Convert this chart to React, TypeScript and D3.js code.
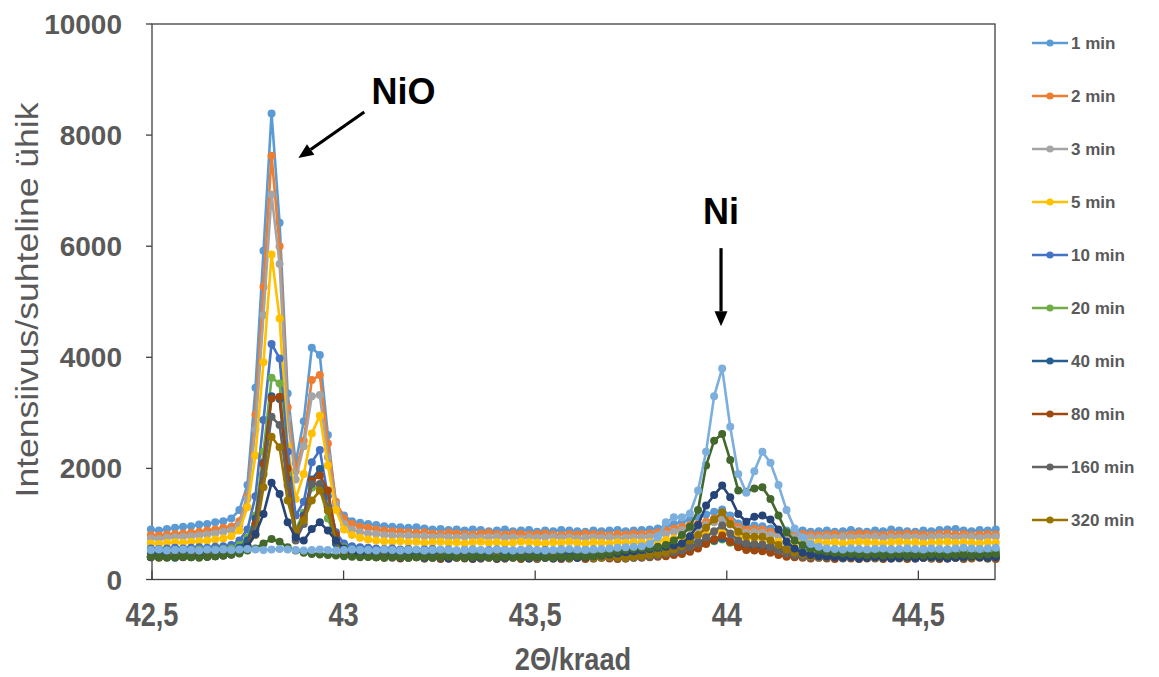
import React from "react";
import * as d3 from "d3";

// XRD scans: 2-theta grid (instrument step) and intensity per scan time
const startAngle = 42.497;
const stepAngle = 0.021;

const min1 = [
  900, 880, 910, 930, 950, 960, 990, 1000, 1030, 1050,
  1100, 1250, 1700, 3450, 5920, 8390, 6420, 3350, 2100, 2850, 4170, 4040, 2600, 1350, 1150, 1050, 1020,
  1000, 980, 960, 950, 940, 930, 940, 920, 900, 910, 890, 900, 880, 900, 890, 870, 880, 900, 870, 880, 890, 860, 880, 870, 890, 880, 870, 860, 880, 870, 880, 890, 870, 880,
  890, 900, 920, 960, 1000, 1040, 1080, 1120, 1170, 1220, 1260, 1150, 1010, 950, 970, 960, 920, 890, 880, 870, 880, 860, 870,
  880, 860, 870, 890, 870, 860, 880, 870, 900, 880, 870, 860, 880, 870, 890, 900, 910, 880, 870, 890, 880, 900,
];
const min2 = [
  800, 790, 810, 820, 830, 840, 860, 880, 900, 930,
  950, 1050, 1500, 2970, 5270, 7630, 6000, 3100, 1950, 2500, 3590, 3680, 2450, 1400, 1100, 1000, 950,
  930, 900, 880, 870, 860, 850, 840, 850, 830, 820, 840, 830, 820, 810, 830, 840, 820, 810, 830, 820, 810, 820, 830, 810, 800, 820, 810, 830, 820, 810, 800, 820, 810, 830,
  820, 830, 850, 880, 920, 950, 980, 1000, 1040, 1100, 1150, 1060, 950, 900, 910, 900, 860, 830, 820, 810, 820, 810, 800,
  810, 820, 800, 810, 830, 820, 810, 800, 820, 810, 830, 820, 810, 800, 820, 830, 810, 820, 800, 810, 820, 810,
];
const min3 = [
  740, 730, 750, 760, 770, 780, 790, 810, 830, 860,
  880, 980, 1450, 2700, 4760, 6930, 5680, 2900, 1800, 2400, 3300, 3320, 2200, 1350, 1000, 900, 850,
  830, 820, 800, 790, 780, 790, 770, 780, 760, 770, 760, 750, 770, 760, 750, 760, 770, 750, 760, 740, 760, 750, 760, 770, 750, 760, 740, 750, 760, 750, 760, 740, 750, 760,
  760, 770, 790, 820, 860, 890, 920, 940, 980, 1030, 1080, 990, 890, 840, 850, 840, 800, 780, 770, 760, 750, 760, 750,
  760, 750, 770, 760, 750, 760, 770, 750, 760, 750, 770, 760, 750, 760, 770, 760, 750, 760, 770, 750, 760, 770,
];
const min5 = [
  650, 640, 660, 670, 660, 680, 690, 700, 720, 740,
  780, 880, 1300, 2230, 3910, 5850, 4700, 2400, 1450, 1900, 2630, 2950, 2050, 1250, 900, 800, 750,
  720, 700, 690, 680, 690, 670, 680, 660, 670, 680, 660, 670, 650, 670, 680, 660, 670, 650, 660, 680, 670, 660, 650, 670, 660, 680, 660, 650, 670, 660, 650, 670, 660, 670,
  660, 670, 690, 710, 740, 760, 780, 800, 820, 850, 880, 820, 760, 730, 740, 730, 700, 680, 670, 660, 670, 660, 670,
  660, 670, 650, 660, 680, 670, 660, 650, 670, 680, 660, 670, 650, 660, 670, 680, 660, 670, 660, 650, 670, 660,
];
const min10 = [
  560, 550, 560, 570, 560, 570, 580, 570, 590, 600,
  620, 700, 900, 1500, 2870, 4240, 3980, 2300, 1150, 1400, 2110, 2330, 1500, 850, 650, 600, 580,
  570, 560, 550, 560, 540, 550, 530, 540, 550, 530, 540, 520, 530, 540, 520, 530, 540, 530, 520, 530, 540, 520, 530, 520, 540, 530, 520, 530, 540, 520, 530, 540, 530, 540,
  540, 550, 560, 580, 610, 640, 660, 680, 700, 730, 760, 700, 640, 610, 620, 610, 590, 570, 560, 550, 540, 550, 540,
  530, 540, 530, 520, 540, 530, 520, 530, 540, 530, 520, 530, 540, 520, 530, 540, 530, 520, 530, 540, 530, 520,
];
const min20 = [
  520, 510, 520, 530, 520, 530, 540, 530, 540, 550,
  560, 620, 750, 1150, 2300, 3630, 3530, 1900, 900, 1200, 1650, 1650, 1100, 700, 580, 540, 530,
  520, 510, 520, 500, 510, 500, 490, 500, 510, 500, 490, 500, 490, 480, 500, 490, 500, 490, 480, 490, 500, 490, 480, 490, 500, 490, 480, 490, 500, 490, 480, 490, 500, 490,
  500, 510, 520, 540, 570, 600, 620, 640, 660, 690, 720, 660, 600, 570, 580, 570, 550, 530, 520, 510, 500, 510, 500,
  490, 500, 490, 480, 500, 490, 500, 490, 480, 490, 500, 490, 480, 490, 500, 490, 480, 490, 500, 490, 480, 490,
];
const min40 = [
  470, 460, 470, 480, 470, 480, 490, 480, 490, 500,
  520, 570, 700, 1100, 2100, 3300, 3250, 1800, 850, 1150, 1800, 1990, 1250, 650, 520, 490, 480,
  470, 460, 470, 460, 450, 460, 450, 440, 460, 450, 440, 450, 460, 440, 450, 440, 450, 460, 440, 450, 440, 460, 450, 440, 450, 460, 440, 450, 440, 450, 460, 440, 450, 460,
  460, 470, 490, 510, 540, 580, 600, 630, 660, 700, 740, 680, 610, 570, 580, 570, 540, 510, 480, 470, 460, 450, 460,
  450, 440, 450, 460, 440, 450, 440, 460, 450, 440, 450, 460, 440, 450, 440, 460, 450, 440, 450, 460, 450, 440,
];
const min80 = [
  400, 390, 400, 410, 400, 410, 420, 410, 420, 430,
  450, 500, 600, 1000, 2080, 3260, 3290, 2000, 800, 1100, 1780, 1870, 1600, 800, 480, 430, 420,
  410, 400, 390, 400, 380, 390, 400, 380, 390, 370, 380, 390, 380, 370, 380, 390, 370, 380, 390, 370, 380, 370, 390, 380, 370, 380, 390, 370, 380, 390, 380, 370, 380, 390,
  390, 400, 410, 420, 440, 460, 500, 560, 640, 720, 790, 680, 580, 530, 520, 510, 480, 440, 410, 400, 390, 380, 390,
  380, 370, 390, 380, 370, 380, 390, 370, 380, 390, 370, 380, 390, 380, 370, 380, 390, 370, 380, 390, 380, 370,
];
const min160 = [
  410, 400, 410, 420, 410, 420, 430, 420, 430, 440,
  460, 500, 580, 900, 1900, 2930, 2780, 1700, 700, 1000, 1720, 1720, 1300, 700, 470, 430, 420,
  410, 400, 410, 390, 400, 390, 400, 380, 390, 400, 380, 390, 400, 390, 380, 390, 400, 380, 390, 400, 390, 380, 390, 400, 390, 380, 390, 400, 380, 390, 400, 390, 380, 390,
  400, 410, 430, 460, 490, 520, 580, 650, 760, 870, 970, 830, 700, 650, 640, 630, 580, 520, 470, 430, 410, 400, 390,
  390, 400, 380, 390, 400, 390, 380, 390, 400, 380, 390, 400, 390, 380, 390, 400, 390, 380, 390, 400, 380, 390,
];
const min320 = [
  420, 410, 420, 430, 420, 430, 440, 430, 440, 450,
  470, 520, 600, 800, 1660, 2570, 2380, 1420, 880, 1060, 1420, 1600, 1240, 700, 480, 440, 430,
  420, 410, 420, 400, 410, 400, 410, 390, 400, 410, 390, 400, 410, 400, 390, 400, 410, 390, 400, 410, 400, 390, 400, 410, 400, 390, 400, 410, 390, 400, 410, 400, 390, 410,
  420, 440, 460, 480, 540, 600, 700, 800, 930, 1080, 1210, 1000, 860, 780, 770, 770, 700, 620, 540, 480, 450, 420, 410,
  400, 410, 390, 400, 410, 400, 390, 400, 410, 390, 400, 410, 400, 390, 400, 410, 400, 390, 400, 410, 390, 400,
];
// scans drawn without a legend entry
const extraA = [
  400, 410, 400, 390, 410, 400, 420, 410, 420, 430,
  450, 480, 600, 820, 1180, 1740, 1540, 1030, 760, 700, 910, 1030, 880, 700, 560, 470, 440,
  420, 410, 400, 410, 390, 400, 410, 390, 400, 390, 380, 400, 390, 380, 390, 400, 380, 390, 400, 390, 380, 400, 390, 380, 390, 400, 390, 400, 420, 430, 450, 470, 490, 510,
  530, 550, 570, 590, 610, 650, 780, 980, 1330, 1520, 1690, 1480, 1180, 1040, 1130, 1150, 1080, 900, 680, 560, 480, 440, 420,
  410, 400, 390, 400, 380, 390, 400, 390, 380, 390, 400, 380, 390, 400, 390, 380, 390, 400, 410, 400, 390, 400,
];
const extraB = [
  410, 400, 390, 400, 410, 400, 390, 410, 420, 430,
  450, 470, 520, 560, 650, 730, 680, 580, 520, 480, 460, 450, 440, 430, 420, 410, 400,
  410, 400, 390, 410, 400, 390, 400, 410, 390, 400, 410, 400, 390, 400, 410, 400, 390, 410, 400, 390, 400, 410, 400, 390, 410, 400, 420, 410, 420, 440, 470, 500, 530, 550,
  560, 570, 590, 620, 700, 800, 950, 1250, 2050, 2500, 2620, 2150, 1600, 1580, 1640, 1660, 1450, 1150, 850, 700, 620, 560, 520,
  500, 480, 470, 460, 450, 440, 450, 430, 440, 450, 430, 440, 430, 450, 440, 430, 440, 450, 430, 440, 450, 460,
];
const extraC = [
  530, 540, 520, 530, 540, 530, 520, 540, 530, 540,
  530, 540, 550, 540, 530, 540, 550, 540, 530, 520, 530, 540, 530, 520, 530, 540, 530,
  530, 520, 540, 530, 520, 530, 540, 520, 530, 540, 530, 520, 530, 540, 530, 520, 540, 530, 520, 530, 540, 530, 520, 530, 540, 550, 540, 530, 540, 550, 560, 570, 580, 590,
  600, 640, 760, 1030, 1120, 1120, 1190, 1600, 2300, 3300, 3800, 2750, 1900, 1560, 1950, 2300, 2100, 1700, 1250, 920, 760, 640, 590,
  560, 550, 540, 560, 550, 540, 550, 560, 540, 550, 560, 550, 540, 560, 550, 540, 560, 570, 560, 550, 560, 570,
];

const legendNames = ["1 min", "2 min", "3 min", "5 min", "10 min", "20 min", "40 min", "80 min", "160 min", "320 min"];
const allSeries = [min1, min2, min3, min5, min10, min20, min40, min80, min160, min320, extraA, extraB, extraC];
const colors = [
  "#5B9BD5", "#ED7D31", "#A5A5A5", "#FFC000", "#4472C4", "#70AD47",
  "#255E91", "#9E480E", "#636363", "#997300", "#264478", "#43682B", "#7CAFDD",
];
const xTicks = [42.5, 43, 43.5, 44, 44.5];
const yTicks = [0, 2000, 4000, 6000, 8000, 10000];

const W = 1159;
const H = 677;
const gray = "#595959";
const font = "'Liberation Sans', Arial, sans-serif";

const App = () => {
  const x = d3.scaleLinear().domain([42.5, 44.7]).range([152, 995]);
  const y = d3.scaleLinear().domain([0, 10000]).range([579.5, 24]);
  const angle = (i: number) => startAngle + i * stepAngle;
  const line = d3
    .line<number>()
    .x((_, i) => x(angle(i)))
    .y((d) => y(d));
  const fmt = (v: number) => String(v).replace(".", ",");

  const [x0, x1] = x.range();
  const [y0, y1] = y.range();

  const arrow = (ax: number, ay: number, bx: number, by: number, key: string) => {
    const p1 = [x(ax), y(ay)];
    const p2 = [x(bx), y(by)];
    const ang = Math.atan2(p2[1] - p1[1], p2[0] - p1[0]);
    const len = 15;
    const half = 6.5;
    const base = [p2[0] - len * Math.cos(ang), p2[1] - len * Math.sin(ang)];
    const pts = [
      p2,
      [base[0] + half * Math.sin(ang), base[1] - half * Math.cos(ang)],
      [base[0] - half * Math.sin(ang), base[1] + half * Math.cos(ang)],
    ];
    return (
      <g key={key}>
        <line x1={p1[0]} y1={p1[1]} x2={base[0]} y2={base[1]} stroke="#000" strokeWidth={3.2} />
        <polygon points={pts.map((p) => p.join(",")).join(" ")} fill="#000" />
      </g>
    );
  };

  return (
    <svg
      width={W}
      height={H}
      style={{ position: "absolute", left: 0, top: 0, background: "#fff" }}
    >
      <rect x={0} y={0} width={W} height={H} fill="#fff" />

      {/* plot border */}
      <rect x={x0} y={y1} width={x1 - x0} height={y0 - y1} fill="none" stroke="#404040" strokeWidth={1.3} />

      {/* y axis ticks and labels */}
      {yTicks.map((t) => (
        <g key={"y" + t}>
          <line x1={x0 - 6} x2={x0} y1={y(t)} y2={y(t)} stroke="#404040" strokeWidth={1.3} />
          <text
            x={122}
            y={y(t)}
            dy="0.36em"
            textAnchor="end"
            fontFamily={font}
            fontWeight="bold"
            fontSize={28}
            fill={gray}
          >
            {t}
          </text>
        </g>
      ))}

      {/* x axis ticks and labels */}
      {xTicks.map((t) => (
        <g key={"x" + t}>
          <line x1={x(t)} x2={x(t)} y1={y0} y2={y0 - 9} stroke="#404040" strokeWidth={1.3} />
          <text
            transform={`translate(${x(t)},626) scale(0.8,1)`}
            textAnchor="middle"
            fontFamily={font}
            fontWeight="bold"
            fontSize={34}
            fill={gray}
          >
            {fmt(t)}
          </text>
        </g>
      ))}

      {/* axis titles */}
      <text
        transform="translate(573,670) scale(0.85,1)"
        textAnchor="middle"
        fontFamily={font}
        fontWeight="bold"
        fontSize={32}
        fill={gray}
      >
        2Θ/kraad
      </text>
      <text
        transform="translate(38,300) rotate(-90)"
        textAnchor="middle"
        fontFamily={font}
        fontSize={31}
        fill={gray}
        textLength={395}
        lengthAdjust="spacingAndGlyphs"
      >
        Intensiivus/suhteline ühik
      </text>

      {/* series */}
      {allSeries.map((s, k) => (
        <g key={"s" + k}>
          <path d={line(s) || ""} fill="none" stroke={colors[k]} strokeWidth={2.6} strokeLinejoin="round" />
          {s.map((v, i) => (
            <circle key={i} cx={x(angle(i))} cy={y(v)} r={4} fill={colors[k]} />
          ))}
        </g>
      ))}

      {/* annotations */}
      {arrow(43.054, 8415, 42.882, 7586, "a1")}
      {arrow(43.985, 5965, 43.985, 4559, "a2")}
      <text x={x(43.073)} y={y(8560)} fontFamily={font} fontWeight="bold" fontSize={36} fill="#000">
        NiO
      </text>
      <text x={x(43.985)} y={y(6397)} textAnchor="middle" fontFamily={font} fontWeight="bold" fontSize={36} fill="#000">
        Ni
      </text>

      {/* legend */}
      {legendNames.map((name, i) => {
        const ly = 43 + i * 53;
        return (
          <g key={"l" + i}>
            <line x1={1032} x2={1068} y1={ly} y2={ly} stroke={colors[i]} strokeWidth={2.4} />
            <circle cx={1050} cy={ly} r={3.6} fill={colors[i]} />
            <text x={1071} y={ly} dy="0.36em" fontFamily={font} fontWeight="bold" fontSize={17} fill={gray}>
              {name}
            </text>
          </g>
        );
      })}
    </svg>
  );
};

export default App;
